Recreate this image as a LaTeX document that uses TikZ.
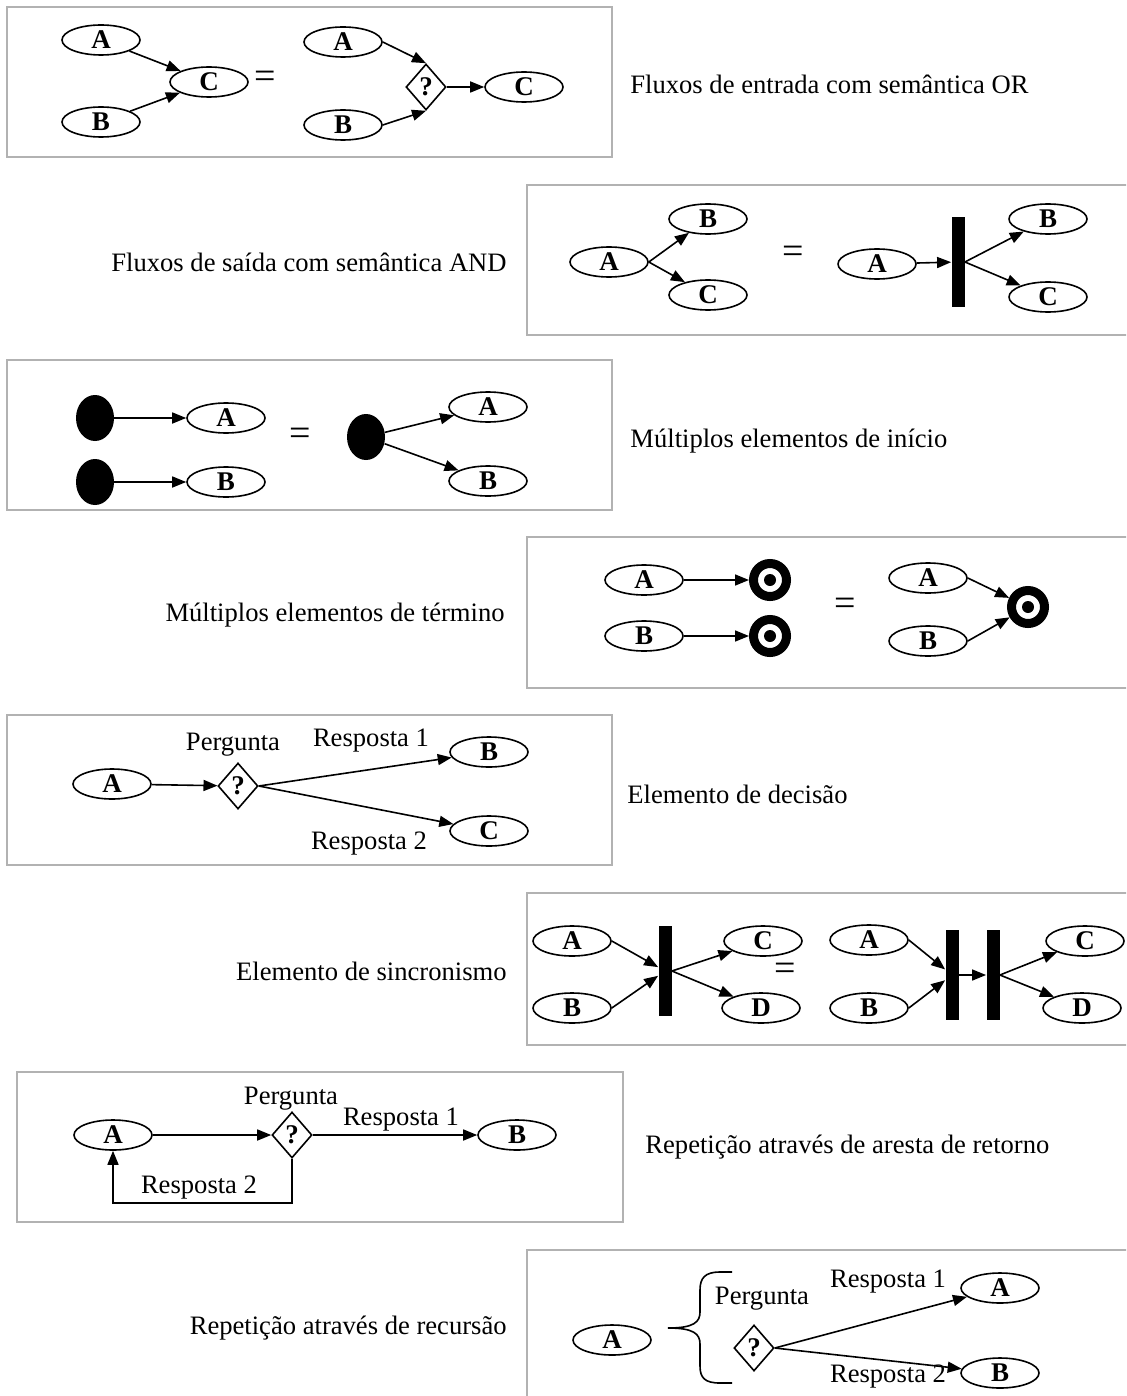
\documentclass[tikz,border=0pt]{standalone}
\usepackage{fontspec}
\setmainfont{Liberation Serif}
\usetikzlibrary{positioning}
\usetikzlibrary{calc}
\usetikzlibrary{arrows.meta}
\usetikzlibrary{shapes.geometric}

\begin{document}
\begin{tikzpicture}[x=0.5pt,y=-0.5pt,
    font=\fontsize{13.3pt}{16pt}\selectfont,
    >={Triangle[length=7pt,width=5.5pt]},
    moldura/.style={draw=black!30,line width=1pt},
    estado/.style={ellipse,draw,line width=0.8pt,minimum width=39pt,minimum height=15pt,inner sep=0pt,font=\fontsize{13.5pt}{15pt}\selectfont\bfseries},
    decisao/.style={diamond,draw,line width=0.8pt,minimum width=20pt,minimum height=23pt,inner sep=0pt,font=\fontsize{13.5pt}{15pt}\selectfont\bfseries},
    barra/.style={rectangle,fill,minimum width=6.5pt,minimum height=45pt,inner sep=0pt},
    inicio/.style={ellipse,fill,minimum width=19pt,minimum height=23pt,inner sep=0pt},
    termino/.style={circle,draw,line width=4.5pt,minimum size=16.5pt,inner sep=0pt,
        path picture={\fill (path picture bounding box.center) circle (3pt);}},
    igual/.style={font=\fontsize{19pt}{19pt}\selectfont},
    seta/.style={->,line width=0.8pt},
    texto/.style={inner sep=0pt}]
    \useasboundingbox (0,0) rectangle (1126,1396);
    \clip (0,0) rectangle (1126,1396);

    \draw[moldura] (7,7) rectangle (612,157);
    \node[estado] (A1) at (101,40) {A};
    \node[estado] (B1) at (101,122) {B};
    \node[estado] (C1) at (209,82) {C};
    \node[igual] (eq1) at (265,80) {=};
    \node[estado] (A1r) at (343,42) {A};
    \node[estado] (B1r) at (343,125) {B};
    \node[decisao] (Q1) at (426,87) {?};
    \node[estado] (C1r) at (524,87) {C};
    \draw[seta] (A1) -- (C1);
    \draw[seta] (B1) -- (C1);
    \draw[seta] (A1r.east) -- (Q1.north);
    \draw[seta] (B1r.east) -- (Q1.south);
    \draw[seta] (Q1) -- (C1r);
    \node[texto,anchor=west] (t1) at (630,84) {Fluxos de entrada com semântica OR};

    \draw[moldura] (527,185) rectangle (1130,335);
    \node[texto,anchor=east] (t2) at (507,262) {Fluxos de saída com semântica AND};
    \node[estado] (A2) at (609,262) {A};
    \node[estado] (B2) at (708,219) {B};
    \node[estado] (C2) at (708,295) {C};
    \draw[seta] (A2.east) -- (B2);
    \draw[seta] (A2.east) -- (C2);
    \node[igual] (eq2) at (793,255) {=};
    \node[estado] (A2r) at (877,264) {A};
    \node[barra] (K2) at (958,262) {};
    \node[estado] (B2r) at (1048,219) {B};
    \node[estado] (C2r) at (1048,297) {C};
    \draw[seta] (A2r) -- (K2);
    \draw[seta] (K2.east) -- (B2r);
    \draw[seta] (K2.east) -- (C2r);

    \draw[moldura] (7,360) rectangle (612,510);
    \node[inicio] (I3a) at (95,418) {};
    \node[inicio] (I3b) at (95,482) {};
    \node[estado] (A3) at (226,418) {A};
    \node[estado] (B3) at (226,482) {B};
    \draw[seta] (I3a) -- (A3);
    \draw[seta] (I3b) -- (B3);
    \node[igual] (eq3) at (300,437) {=};
    \node[inicio] (I3) at (366,437) {};
    \node[estado] (A3r) at (488,407) {A};
    \node[estado] (B3r) at (488,481) {B};
    \draw[seta] (I3) -- (A3r);
    \draw[seta] (I3) -- (B3r);
    \node[texto,anchor=west] (t3) at (630,441) {Múltiplos elementos de início};

    \draw[moldura] (527,537) rectangle (1130,688);
    \node[texto,anchor=east] (t4) at (505,615) {Múltiplos elementos de término};
    \node[estado] (A4) at (644,580) {A};
    \node[estado] (B4) at (644,636) {B};
    \node[termino] (T4a) at (770,580) {};
    \node[termino] (T4b) at (770,636) {};
    \draw[seta] (A4) -- (T4a);
    \draw[seta] (B4) -- (T4b);
    \node[igual] (eq4) at (845,607) {=};
    \node[estado] (A4r) at (928,578) {A};
    \node[estado] (B4r) at (928,641) {B};
    \node[termino] (T4) at (1028,607) {};
    \draw[seta] (A4r.east) -- (T4);
    \draw[seta] (B4r.east) -- (T4);

    \draw[moldura] (7,715) rectangle (612,865);
    \node[estado] (A5) at (112,784) {A};
    \node[decisao] (Q5) at (238,786) {?};
    \node[estado] (B5) at (489,752) {B};
    \node[estado] (C5) at (489,831) {C};
    \draw[seta] (A5) -- (Q5);
    \draw[seta] (Q5.east) -- (B5);
    \draw[seta] (Q5.east) -- (C5);
    \node (p5) at (233,745) {Pergunta};
    \node (r51) at (371,741) {Resposta 1};
    \node (r52) at (369,844) {Resposta 2};
    \node[texto,anchor=west] (t5) at (627,794) {Elemento de decisão};

    \draw[moldura] (527,893) rectangle (1130,1045);
    \node[texto,anchor=east] (t6) at (507,971) {Elemento de sincronismo};
    \node[estado] (A6) at (572,941) {A};
    \node[estado] (B6) at (572,1008) {B};
    \node[barra] (K6) at (665,971) {};
    \node[estado] (C6) at (763,941) {C};
    \node[estado] (D6) at (761,1008) {D};
    \draw[seta] (A6.east) -- (K6);
    \draw[seta] (B6.east) -- (K6);
    \draw[seta] (K6.east) -- (C6);
    \draw[seta] (K6.east) -- (D6);
    \node[igual] (eq6) at (785,972) {=};
    \node[estado] (A6r) at (869,940) {A};
    \node[estado] (B6r) at (869,1008) {B};
    \node[barra] (K6a) at (952,975) {};
    \node[barra] (K6b) at (993,975) {};
    \node[estado] (C6r) at (1085,941) {C};
    \node[estado] (D6r) at (1082,1008) {D};
    \draw[seta] (A6r.east) -- (K6a);
    \draw[seta] (B6r.east) -- (K6a);
    \draw[seta] (K6a) -- (K6b);
    \draw[seta] (K6b.east) -- (C6r);
    \draw[seta] (K6b.east) -- (D6r);

    \draw[moldura] (17,1072) rectangle (623,1222);
    \node[estado] (A7) at (113,1135) {A};
    \node[decisao] (Q7) at (292,1135) {?};
    \node[estado] (B7) at (517,1135) {B};
    \coordinate (v7) at (292,1203);
    \draw[seta] (A7) -- (Q7);
    \draw[seta] (Q7) -- (B7);
    \draw[seta] (Q7.south) -- (v7) -| (A7.south);
    \node (p7) at (291,1099) {Pergunta};
    \node (r71) at (401,1120) {Resposta 1};
    \node (r72) at (199,1188) {Resposta 2};
    \node[texto,anchor=west] (t7) at (645,1147) {Repetição através de aresta de retorno};

    \draw[moldura] (527,1250) rectangle (1130,1400);
    \node[texto,anchor=east] (t8) at (507,1328) {Repetição através de recursão};
    \node[estado] (A8) at (612,1340) {A};
    \draw[line width=0.8pt] (732,1272) -- (720,1272) .. controls (705,1272) and (700,1278) .. (700,1290)
        -- (700,1312) .. controls (700,1322) and (694,1328) .. (668,1328)
        .. controls (694,1328) and (700,1334) .. (700,1344) -- (700,1366)
        .. controls (700,1378) and (705,1383) .. (720,1383) -- (732,1383);
    \node (p8) at (762,1299) {Pergunta};
    \node[decisao] (Q8) at (754,1348) {?};
    \node[estado] (A8r) at (1000,1288) {A};
    \node[estado] (B8r) at (1000,1373) {B};
    \draw[seta] (Q8.east) -- (A8r);
    \draw[seta] (Q8.east) -- (B8r);
    \node (r81) at (888,1282) {Resposta 1};
    \node (r82) at (888,1377) {Resposta 2};
\end{tikzpicture}
\end{document}
